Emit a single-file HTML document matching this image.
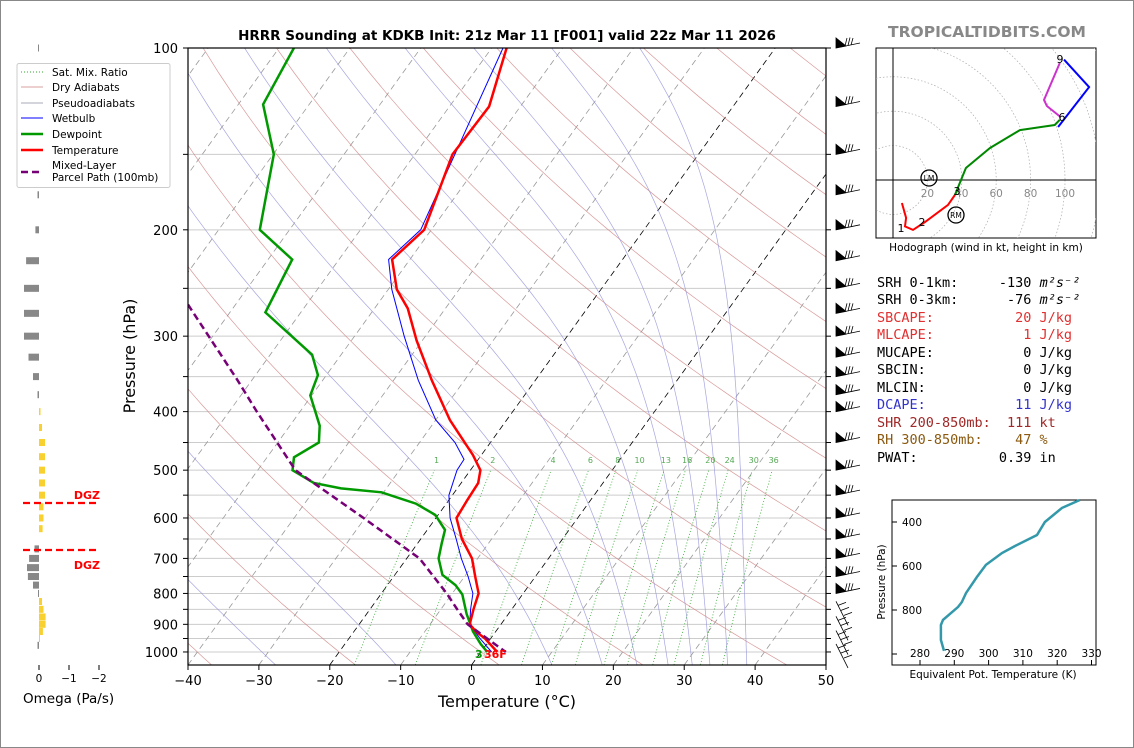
<!DOCTYPE html>
<html><head><meta charset="utf-8">
<style>
html,body{margin:0;padding:0;background:#fff;}
svg{display:block;font-family:"DejaVu Sans","Liberation Sans",sans-serif;}
</style></head>
<body>
<svg id="c" width="1134" height="748" viewBox="0 0 1134 748" xmlns="http://www.w3.org/2000/svg">
<rect x="0.5" y="0.5" width="1133" height="747" fill="#fff" stroke="#888"/>
<defs><clipPath id="clip"><rect x="188" y="48" width="638" height="617"/></clipPath>
<clipPath id="hclip"><rect x="876" y="48" width="220" height="190"/></clipPath></defs>
<text x="507" y="40" text-anchor="middle" font-size="13.5" font-weight="bold">HRRR Sounding at KDKB Init: 21z Mar 11 [F001] valid 22z Mar 11 2026</text>
<text x="987" y="37" text-anchor="middle" font-size="15.5" font-weight="bold" fill="#888">TROPICALTIDBITS.COM</text>
<g id="bg" clip-path="url(#clip)"></g>
<g id="prof" clip-path="url(#clip)"></g>
<g id="axes"></g>
<g id="omega"></g>
<g id="barbs"></g>
<g id="hodo"></g>
<g id="thetae"></g>
<g>
<rect x="17" y="63.5" width="153" height="124" fill="#fff" stroke="#ccc" rx="2"/>
<line x1="21" y1="72" x2="43" y2="72" stroke="#3a3" stroke-dasharray="1,2"/>
<text x="52" y="76" font-size="10.5">Sat. Mix. Ratio</text>
<line x1="21" y1="87" x2="43" y2="87" stroke="#d9a0a0"/>
<text x="52" y="91" font-size="10.5">Dry Adiabats</text>
<line x1="21" y1="103" x2="43" y2="103" stroke="#aab"/>
<text x="52" y="107" font-size="10.5">Pseudoadiabats</text>
<line x1="21" y1="118" x2="43" y2="118" stroke="#00f"/>
<text x="52" y="122" font-size="10.5">Wetbulb</text>
<line x1="21" y1="134" x2="43" y2="134" stroke="#090" stroke-width="2.5"/>
<text x="52" y="138" font-size="10.5">Dewpoint</text>
<line x1="21" y1="150" x2="43" y2="150" stroke="#f00" stroke-width="2.5"/>
<text x="52" y="154" font-size="10.5">Temperature</text>
<line x1="21" y1="172" x2="43" y2="172" stroke="#707" stroke-width="2.5" stroke-dasharray="7,4"/>
<text x="52" y="169" font-size="10.5">Mixed-Layer</text>
<text x="52" y="181" font-size="10.5">Parcel Path (100mb)</text>
</g>
<g font-family="'DejaVu Sans Mono','Liberation Mono',monospace" font-size="13.5">
<text x="877" y="287" xml:space="preserve">SRH 0-1km:     -130 <tspan font-style="italic">m²s⁻²</tspan></text>
<text x="877" y="304" xml:space="preserve">SRH 0-3km:      -76 <tspan font-style="italic">m²s⁻²</tspan></text>
<text x="877" y="322" fill="#e03030" xml:space="preserve">SBCAPE:          20 J/kg</text>
<text x="877" y="339" fill="#e03030" xml:space="preserve">MLCAPE:           1 J/kg</text>
<text x="877" y="357" xml:space="preserve">MUCAPE:           0 J/kg</text>
<text x="877" y="374" xml:space="preserve">SBCIN:            0 J/kg</text>
<text x="877" y="392" xml:space="preserve">MLCIN:            0 J/kg</text>
<text x="877" y="409" fill="#3333cc" xml:space="preserve">DCAPE:           11 J/kg</text>
<text x="877" y="427" fill="#a02828" xml:space="preserve">SHR 200-850mb:  111 kt</text>
<text x="877" y="444" fill="#8b5a10" xml:space="preserve">RH 300-850mb:    47 %</text>
<text x="877" y="462" xml:space="preserve">PWAT:          0.39 in</text>
</g>
</svg>
<script>
// ---- data ----
const tempP = [100,125,150,200,224,251,270,305,355,413,472,500,525,560,600,650,700,750,800,850,900,925,950,1000];
const tempC = [-57.9,-54.4,-54.7,-51,-52.5,-48.8,-45.3,-40.8,-34.6,-28,-21.2,-18.6,-17.6,-17.4,-17.1,-14.2,-10.8,-8.5,-6.3,-5.4,-4.4,-2.8,-0.8,2.3];
const dewP = [100,124,150,200,224,274,322,348,376,422,450,476,500,525,536,544,568,593,628,661,700,745,775,803,865,925,970,1000];
const dewC = [-87.9,-86.5,-79.9,-74.2,-66.6,-65,-54.1,-51.2,-50.2,-45.8,-44.2,-46.2,-45.1,-40.8,-36.4,-30.3,-24.3,-20.4,-17.5,-16.6,-15.5,-13.3,-10.4,-8.5,-5.9,-3.2,-0.85,0.9];
const wbP = [100,200,224,251,300,355,413,450,480,500,550,600,650,700,750,800,850,900,950,1000];
const wbC = [-58.4,-51.5,-53,-49.5,-43,-36.5,-30,-25,-22,-21.9,-20.5,-18,-15,-12.3,-9.5,-7.1,-5.8,-4.4,-1.5,1.5];
const parcelP = [266,355,400,500,600,700,800,850,900,975,1000];
const parcelC = [-76.7,-62,-56.1,-44.7,-30.2,-18.2,-10.8,-7.7,-4.7,1.5,3.5];
const omegaP = [100,125,150,175,200,225,250,275,300,325,350,375,400,425,450,475,500,525,550,575,600,625,650,675,700,725,750,775,800,825,850,875,900,925,950,975];
const omegaV = [0.02,0.1,0.1,0.05,0.12,0.43,0.5,0.5,0.5,0.35,0.2,0.05,-0.05,-0.1,-0.2,-0.2,-0.2,-0.2,-0.2,-0.15,-0.15,-0.12,0,0.15,0.33,0.4,0.37,0.2,0.03,-0.1,-0.15,-0.22,-0.22,-0.13,-0.03,0.05];
const xTicks = [-40,-30,-20,-10,0,10,20,30,40,50];
const yTickLabels = [100,200,300,400,500,600,700,800,900,1000];
const mixRatios = [1,2,4,6,8,10,13,16,20,24,30,36];
const moistStartC = [-27.7,-10.7,11.3,18.4,23.3,27.7,31.1,33.6,36.1,38.8];
const hodoU = [5.2,7.6,7,11.6,18.6,32,36];
const hodoV = [-13.4,-22,-27,-29,-24.4,-14.5,-8.7];
const hodoU2 = [36,42.4,56.4,73.8,94,97];
const hodoV2 = [-8.7,7,18.6,29,32,35];
const hodoU3 = [97,89.5,87.8,97];
const hodoV3 = [37,43,46.5,68];
const hodoU4 = [99.4,114,96];
const hodoV4 = [70,54,30.8];
const teP = [300,336,400,459,482,509,541,595,650,723,764,786,845,868,936,986];
const teK = [326.6,321.4,316.4,314.1,311.2,307.7,303.9,299.2,296.6,293.4,292.2,291.1,286.7,286.1,286.1,287];
const barbP = [100,125,150,175,200,225,250,275,300,325,350,375,400,450,500,550,600,650,700,750,800,850,900,950,1000];

// ---- helpers ----
const NS='http://www.w3.org/2000/svg';
function el(parent,tag,attrs){const e=document.createElementNS(NS,tag);for(const k in attrs)e.setAttribute(k,attrs[k]);parent.appendChild(e);return e;}
const PX=638/90, K=0.722;
function yP(p){return 48+262.3*Math.log(p/100);}
function xT(T,p){return 188+(T+40)*PX+(665-yP(p))*K;}
function path(ps,ts){return ps.map((p,i)=>(i?'L':'M')+xT(ts[i],p).toFixed(1)+','+yP(p).toFixed(1)).join('');}
const bg=document.getElementById('bg'), prof=document.getElementById('prof'), ax=document.getElementById('axes');

for(let p=100;p<=1000;p+=50){
 const l=el(bg,'line',{x1:188,x2:826,y1:yP(p),y2:yP(p),stroke:'#ccc','stroke-width':1});
 
 
}
for(let T=-150;T<=50;T+=10){
 const a=el(bg,'line',{x1:188+(T+40)*PX,y1:665,x2:188+(T+40)*PX+617*K,y2:48,stroke:(T==0||T==-20)?'#000':'#999','stroke-width':0.8,'stroke-dasharray':'6,4'});
 
 
}
const plev=[];for(let p=1050;p>=100;p-=10)plev.push(p);
for(let thC=-40;thC<=300;thC+=20){
 const th=thC+273.15;
 const ts=plev.map(p=>th*Math.pow(p/1000,0.286)-273.15);
 const d=el(bg,'path',{d:path(plev,ts),fill:'none',stroke:'#d08080','stroke-width':0.7,opacity:0.8});
 
 
}
function es(T){return 6.112*Math.exp(17.67*T/(T+243.5));}
moistStartC.forEach(T0=>{
 let T=T0+273.15; const ps=[],ts=[];
 for(let p=1050;p>=100;p-=5){
  ps.push(p);ts.push(T-273.15);
  const rs=0.622*es(T-273.15)/(p-es(T-273.15));
  const dTdp=(287*T+2.5e6*rs)/(p*(1004+2.5e6*2.5e6*rs*0.622/(287*T*T)));
  T-=dTdp*5;
 }
 const d=el(bg,'path',{d:path(ps,ts),fill:'none',stroke:'#9090d8','stroke-width':0.7,opacity:0.8});
 
 
});
mixRatios.forEach(w=>{
 const ps=[],ts=[];
 for(let p=1050;p>=500;p-=10){const e=(w/1000)*p/(0.622+w/1000);const l=Math.log(e/6.112);ps.push(p);ts.push(243.5*l/(17.67-l));}
 const d=el(bg,'path',{d:path(ps,ts),fill:'none',stroke:'#3a3','stroke-width':0.8,'stroke-dasharray':'1,2'});
 
 
 const e=(w/1000)*490/(0.622+w/1000);const l=Math.log(e/6.112);
 const t=el(bg,'text',{x:xT(243.5*l/(17.67-l),490),y:yP(490)-2,'font-size':8,fill:'#5a5','text-anchor':'middle'});
 t.textContent=w;
 
 
});
const pw=el(prof,'path',{d:path(wbP,wbC),fill:'none',stroke:'#00f','stroke-width':1});


const pd=el(prof,'path',{d:path(dewP,dewC),fill:'none',stroke:'#090','stroke-width':2.5});


const pt=el(prof,'path',{d:path(tempP,tempC),fill:'none',stroke:'#f00','stroke-width':2.5});


const pp=el(prof,'path',{d:path(parcelP,parcelC),fill:'none',stroke:'#707','stroke-width':2.5,'stroke-dasharray':'7,4'});


const s1=el(ax,'text',{x:475,y:658,'font-size':11,'font-weight':'bold',fill:'#090'});s1.textContent='3';


const s2=el(ax,'text',{x:484,y:658,'font-size':11,'font-weight':'bold',fill:'#f00'});s2.textContent='36F';



const fr=el(ax,'rect',{x:188,y:48,width:638,height:617,fill:'none',stroke:'#000','stroke-width':1.2});


xTicks.forEach(T=>{
 const x=188+(T+40)*PX;
 const a=el(ax,'line',{x1:x,x2:x,y1:665,y2:670,stroke:'#000'});
 
 
 const t=el(ax,'text',{x:x,y:685,'font-size':13,'text-anchor':'middle'});t.textContent=T<0?'\u2212'+(-T):T;
 
 
});
for(let p=100;p<=1000;p+=50){
 const a=el(ax,'line',{x1:183,x2:188,y1:yP(p),y2:yP(p),stroke:'#000'});
 
 
 const b=el(ax,'line',{x1:826,x2:831,y1:yP(p),y2:yP(p),stroke:'#000'});
 
 
}
yTickLabels.forEach(p=>{
 const t=el(ax,'text',{x:178,y:yP(p)+5,'font-size':13,'text-anchor':'end'});t.textContent=p;
 
 
});
const xl=el(ax,'text',{x:507,y:707,'font-size':16,'text-anchor':'middle'});xl.textContent='Temperature (°C)';


const yl=el(ax,'text',{x:0,y:0,'font-size':16,'text-anchor':'middle',transform:'translate(135,356) rotate(-90)'});yl.textContent='Pressure (hPa)';



const om=document.getElementById('omega');
omegaP.forEach((p,i)=>{
 const v=omegaV[i]; if(v===0)return;
 const w=Math.max(Math.abs(v)*30,1);
 const r=el(om,'rect',{x:v>0?39-w:39,y:yP(p)-3.5,width:w,height:7,fill:v>0?'#888':'#f8d030'});
 
 
});
[[0,39],[-1,69],[-2,99]].forEach(o=>{
 const a=el(om,'line',{x1:o[1],x2:o[1],y1:665,y2:670,stroke:'#000'});
 
 
 const t=el(om,'text',{x:o[1],y:682,'font-size':10.5,'text-anchor':'middle'});t.textContent=o[0]<0?'\u2212'+(-o[0]):o[0];
 
 
});
const ot=el(om,'text',{x:23,y:703,'font-size':13.5});ot.textContent='Omega (Pa/s)';


[[503,495],[550,565]].forEach(d=>{
 const l=el(om,'line',{x1:23,x2:99,y1:d[0],y2:d[0],stroke:'#f00','stroke-width':2.2,'stroke-dasharray':'7,4'});
 
 
 const t=el(om,'text',{x:100,y:d[1]+4,'font-size':11,'font-weight':'bold',fill:'#f00','text-anchor':'end'});t.textContent='DGZ';
 
 
});

const bb=document.getElementById('barbs');
barbP.forEach((p,i)=>{
 const y=yP(p);
 let d;
 if(p<=800){d=`M836,${y}L860,${y-5} M836,${y}l0,-10 l10,8z M845,${y-2}l2,-8 M848,${y-2.5}l2,-8 M851,${y-3}l2,-7`;}
 else{d=`M836,${y-8}l12,24 M838,${y-4}l8,-3 M841,${y+1}l8,-3 M844,${y+6}l8,-3`;}
 const b=el(bb,'path',{d:d,fill:'#000',stroke:'#000','stroke-width':0.8});
 
 
});

const hg=document.getElementById('hodo');
const HX=893,HY=180,HS=1.72;
const hb=el(hg,'rect',{x:876,y:48,width:220,height:190,fill:'#fff',stroke:'#000'});


const hc=el(hg,'g',{'clip-path':'url(#hclip)'});
for(let r=20;r<=200;r+=20){
 const c=el(hc,'circle',{cx:HX,cy:HY,r:r*HS,fill:'none',stroke:'#aaa','stroke-width':0.7,'stroke-dasharray':'1.5,2'});
 
 
}
const h1=el(hc,'line',{x1:876,x2:1096,y1:HY,y2:HY,stroke:'#000'});


const h2=el(hc,'line',{x1:HX,x2:HX,y1:48,y2:238,stroke:'#000'});


[20,40,60,80,100].forEach(k=>{
 const t=el(hc,'text',{x:HX+k*HS,y:HY+17,'font-size':10.5,fill:'#888','text-anchor':'middle'});t.textContent=k;
 
 
});
function hpath(us,vs){return us.map((u,i)=>(i?'L':'M')+(HX+u*HS).toFixed(1)+','+(HY-vs[i]*HS).toFixed(1)).join('');}
[[hodoU,hodoV,'#f00','hodograph-0-3km'],[hodoU2,hodoV2,'#080','hodograph-3-6km'],[hodoU3,hodoV3,'#c3c','hodograph-6-9km'],[hodoU4,hodoV4,'#00f','hodograph-9-12km']].forEach(s=>{
 const h=el(hc,'path',{d:hpath(s[0],s[1]),fill:'none',stroke:s[2],'stroke-width':2});
 
 
});
[['1',901,232],['2',922,226],['3',957,195],['6',1062,121],['9',1060,63]].forEach(l=>{
 const t=el(hc,'text',{x:l[1],y:l[2],'font-size':11,'text-anchor':'middle'});t.textContent=l[0];
 
 
});
[['LM',929,178],['RM',956,215]].forEach(m=>{
 const c=el(hc,'circle',{cx:m[1],cy:m[2],r:8,fill:'none',stroke:'#000','stroke-width':1.3});
 
 
 const t=el(hc,'text',{x:m[1],y:m[2]+3,'font-size':7.5,'text-anchor':'middle'});t.textContent=m[0];
 
 
});
const hcap=el(hg,'text',{x:986,y:251,'font-size':10.5,'text-anchor':'middle'});hcap.textContent='Hodograph (wind in kt, height in km)';



const te=document.getElementById('thetae');
const tf=el(te,'rect',{x:892,y:500,width:204,height:165,fill:'#fff',stroke:'#000'});


function teX(k){return 920+(k-280)*3.43;}
function teY(p){return 522+(p-400)*0.22;}
[400,600,800,1000].forEach(p=>{
 const a=el(te,'line',{x1:892,x2:897,y1:teY(p),y2:teY(p),stroke:'#000'});
 
 
 if(p<1000){const t=el(te,'text',{x:902,y:teY(p)+4,'font-size':10.5});t.textContent=p;
 
 }
});
[280,290,300,310,320,330].forEach(k=>{
 const a=el(te,'line',{x1:teX(k),x2:teX(k),y1:660,y2:665,stroke:'#000'});
 
 
 const t=el(te,'text',{x:teX(k),y:657,'font-size':10.5,'text-anchor':'middle'});t.textContent=k;
 
 
});
const tl=el(te,'path',{d:teP.map((p,i)=>(i?'L':'M')+teX(teK[i]).toFixed(1)+','+teY(p).toFixed(1)).join(''),fill:'none',stroke:'#3399aa','stroke-width':2.5});


const tx=el(te,'text',{x:993,y:678,'font-size':10.5,'text-anchor':'middle'});tx.textContent='Equivalent Pot. Temperature (K)';


const ty=el(te,'text',{x:0,y:0,'font-size':10.5,'text-anchor':'middle',transform:'translate(885,582) rotate(-90)'});ty.textContent='Pressure (hPa)';


</script>
</body></html>
